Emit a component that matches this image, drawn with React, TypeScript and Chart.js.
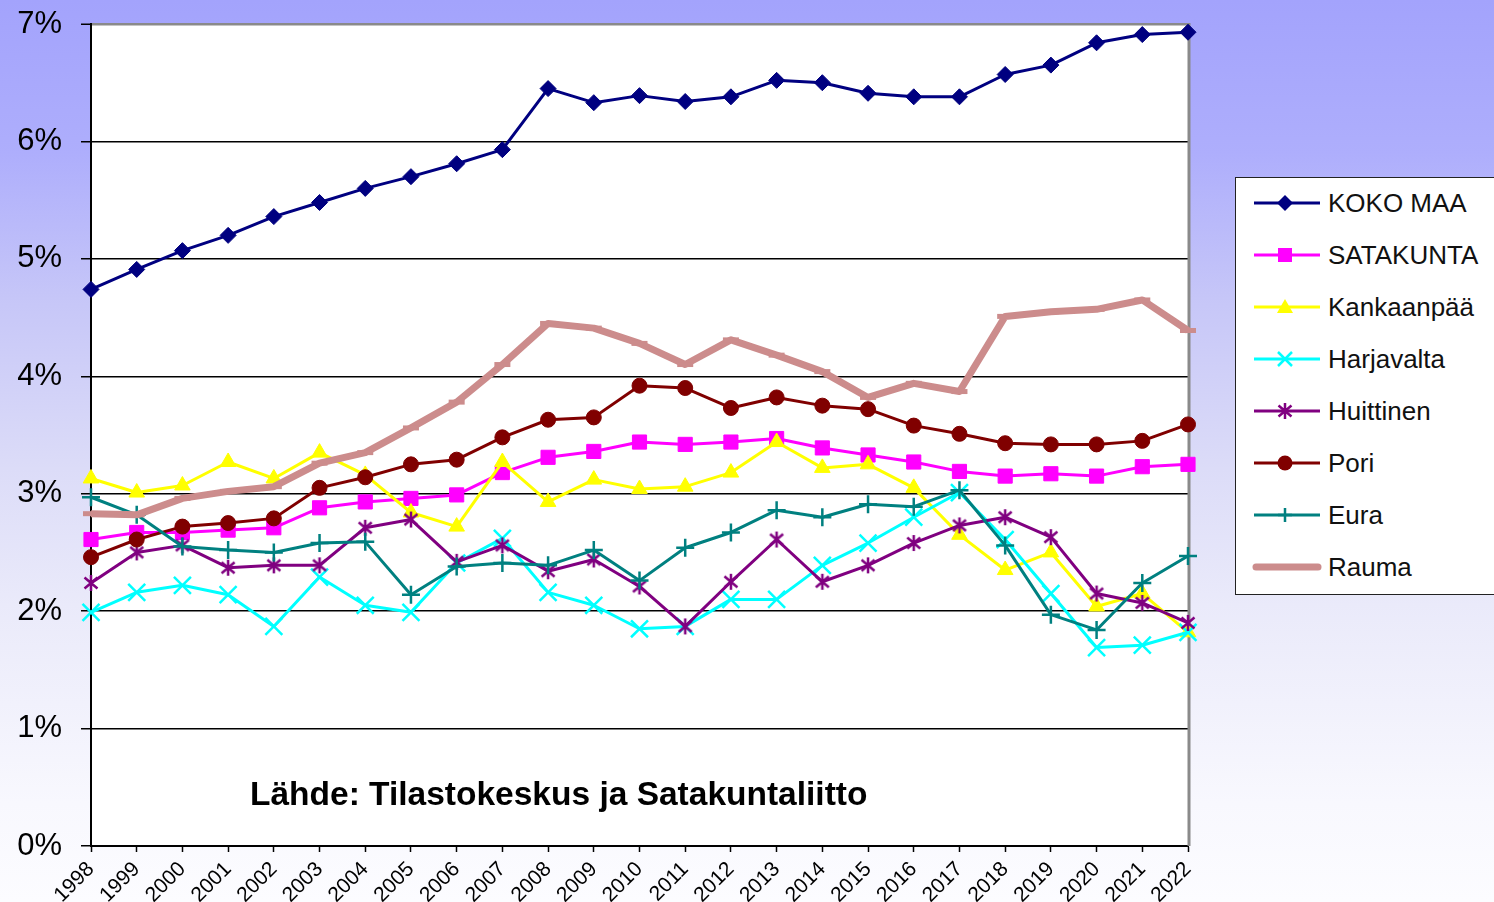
import React, { useEffect, useRef } from 'react';
import { Chart, registerables } from 'chart.js';

Chart.register(...registerables);

const years = ['1998','1999','2000','2001','2002','2003','2004','2005','2006','2007','2008','2009','2010','2011','2012','2013','2014','2015','2016','2017','2018','2019','2020','2021','2022'];
const yTicks = [0, 1, 2, 3, 4, 5, 6, 7];

const kokoMaa = [4.74,4.91,5.07,5.20,5.36,5.48,5.60,5.70,5.81,5.93,6.45,6.33,6.39,6.34,6.38,6.52,6.50,6.41,6.38,6.38,6.57,6.65,6.84,6.91,6.93];
const satakunta = [2.61,2.67,2.67,2.69,2.71,2.88,2.93,2.96,2.99,3.18,3.31,3.36,3.44,3.42,3.44,3.47,3.39,3.33,3.27,3.19,3.15,3.17,3.15,3.23,3.25];
const kankaanpaa = [3.13,3.01,3.07,3.27,3.13,3.35,3.16,2.84,2.72,3.27,2.93,3.12,3.04,3.06,3.18,3.44,3.22,3.25,3.05,2.65,2.35,2.50,2.04,2.15,1.82];
const harjavalta = [1.99,2.16,2.22,2.14,1.87,2.29,2.05,1.99,2.41,2.62,2.16,2.05,1.85,1.87,2.10,2.10,2.39,2.58,2.80,3.01,2.61,2.15,1.69,1.71,1.82];
const huittinen = [2.24,2.50,2.56,2.37,2.39,2.39,2.71,2.78,2.42,2.56,2.34,2.44,2.21,1.87,2.25,2.61,2.25,2.39,2.58,2.73,2.80,2.63,2.15,2.07,1.90];
const pori = [2.46,2.61,2.72,2.75,2.79,3.05,3.14,3.25,3.29,3.48,3.63,3.65,3.92,3.90,3.73,3.82,3.75,3.72,3.58,3.51,3.43,3.42,3.42,3.45,3.59];
const eura = [2.97,2.82,2.55,2.52,2.50,2.58,2.59,2.14,2.38,2.41,2.39,2.52,2.26,2.54,2.67,2.86,2.80,2.91,2.89,3.03,2.56,1.97,1.84,2.24,2.47];
const rauma = [2.83,2.82,2.96,3.02,3.06,3.26,3.35,3.56,3.78,4.10,4.45,4.41,4.28,4.10,4.31,4.18,4.04,3.82,3.94,3.87,4.51,4.55,4.57,4.65,4.39];

const seriesNames = ['KOKO MAA', 'SATAKUNTA', 'Kankaanpää', 'Harjavalta', 'Huittinen', 'Pori', 'Eura', 'Rauma'];
const seriesColors = ['#000080', '#FF00FF', '#FFFF00', '#00FFFF', '#800080', '#800000', '#008080', '#CC8C8C'];
const seriesMarkers = ['diamond', 'square', 'triangle', 'x', 'star', 'circle', 'plus', 'none'];
const sourceText = 'Lähde: Tilastokeskus ja Satakuntaliitto';

const FONT = '"Liberation Sans", Arial, sans-serif';

function makeStarCanvas(color: string) {
  const c = document.createElement('canvas');
  c.width = 18;
  c.height = 18;
  const g = c.getContext('2d')!;
  g.strokeStyle = color;
  g.lineWidth = 2.5;
  g.lineCap = 'butt';
  g.beginPath();
  g.moveTo(2.5, 3.5); g.lineTo(15.5, 14.5);
  g.moveTo(15.5, 3.5); g.lineTo(2.5, 14.5);
  g.moveTo(9, 1); g.lineTo(9, 17);
  g.stroke();
  return c;
}

const plotFrame = {
  id: 'plotFrame',
  beforeDraw(chart: any) {
    const { ctx, chartArea } = chart;
    const { left, top, right, bottom } = chartArea;
    ctx.save();
    ctx.fillStyle = '#ffffff';
    ctx.fillRect(left, top, right - left, bottom - top);
    ctx.restore();
  },
  beforeDatasetsDraw(chart: any) {
    const { ctx, chartArea } = chart;
    const { top, right, bottom } = chartArea;
    ctx.save();
    ctx.strokeStyle = '#8a8a8a';
    ctx.lineWidth = 3;
    ctx.beginPath();
    ctx.moveTo(right + 1, top - 1);
    ctx.lineTo(right + 1, bottom);
    ctx.stroke();
    ctx.restore();
  },
};

function LegendMarker({ type, color }: { type: string; color: string }) {
  const cx = 33, cy = 15;
  let shape: any = null;
  if (type === 'diamond') shape = <polygon points={`${cx},${cy - 8} ${cx + 8},${cy} ${cx},${cy + 8} ${cx - 8},${cy}`} fill={color} />;
  if (type === 'square') shape = <rect x={cx - 7} y={cy - 7} width={14} height={14} fill={color} />;
  if (type === 'triangle') shape = <polygon points={`${cx},${cy - 8} ${cx + 8},${cy + 6} ${cx - 8},${cy + 6}`} fill={color} />;
  if (type === 'x') shape = <path d={`M${cx - 7},${cy - 7}L${cx + 7},${cy + 7}M${cx + 7},${cy - 7}L${cx - 7},${cy + 7}`} stroke={color} strokeWidth={2.5} />;
  if (type === 'star') shape = <path d={`M${cx - 6.5},${cy - 5.5}L${cx + 6.5},${cy + 5.5}M${cx + 6.5},${cy - 5.5}L${cx - 6.5},${cy + 5.5}M${cx},${cy - 8}L${cx},${cy + 8}`} stroke={color} strokeWidth={2.5} />;
  if (type === 'circle') shape = <circle cx={cx} cy={cy} r={7.5} fill={color} />;
  if (type === 'plus') shape = <path d={`M${cx - 7},${cy}L${cx + 7},${cy}M${cx},${cy - 7}L${cx},${cy + 7}`} stroke={color} strokeWidth={2.5} />;
  const isThick = type === 'none';
  return (
    <svg width={72} height={30} style={{ position: 'absolute', left: 0, top: 0 }}>
      <line x1={isThick ? 4 : 2} y1={cy} x2={isThick ? 66 : 68} y2={cy} stroke={color} strokeWidth={isThick ? 7 : 3} strokeLinecap={isThick ? 'round' : 'butt'} />
      {shape}
    </svg>
  );
}

export default function App() {
  const canvasRef = useRef<HTMLCanvasElement | null>(null);

  useEffect(() => {
    const canvas = canvasRef.current;
    if (!canvas) return;
    const values = [kokoMaa, satakunta, kankaanpaa, harjavalta, huittinen, pori, eura, rauma];
    const starImg = makeStarCanvas(seriesColors[4]);
    const pointStyles: any[] = ['rectRot', 'rect', 'triangle', 'crossRot', starImg, 'circle', 'cross', 'line'];
    const pointRadii = [8, 10, 9, 12, 9, 7.5, 9, 8];
    const lineWidths = [3, 3, 3, 3, 3, 3, 3, 7];
    const pointBorderWidths = [1, 1, 1, 2.5, 1, 1, 2.5, 5];

    const datasets = values.map((data, i) => ({
      label: seriesNames[i],
      data,
      borderColor: seriesColors[i],
      backgroundColor: seriesColors[i],
      borderWidth: lineWidths[i],
      pointStyle: pointStyles[i],
      pointRadius: pointRadii[i],
      pointHoverRadius: pointRadii[i],
      pointBorderWidth: pointBorderWidths[i],
      pointBorderColor: seriesColors[i],
      pointBackgroundColor: seriesColors[i],
      tension: 0,
      clip: false as any,
      order: 7 - i,
      borderJoinStyle: 'round' as const,
    }));

    const chart = new Chart(canvas, {
      type: 'line',
      data: { labels: years, datasets },
      plugins: [plotFrame],
      options: {
        animation: false,
        responsive: false,
        devicePixelRatio: 1,
        layout: { padding: { top: 24, right: 306, left: 0, bottom: 0 } },
        plugins: { legend: { display: false }, tooltip: { enabled: false } },
        events: [],
        scales: {
          x: {
            type: 'category',
            offset: false,
            afterFit: (s: any) => { s.height = 56; s.paddingLeft = 0; s.paddingRight = 0; },
            grid: { display: true, drawOnChartArea: false, drawTicks: true, tickLength: 6, tickColor: '#000', tickWidth: 1.5 },
            border: { display: true, color: '#000', width: 2 },
            ticks: {
              autoSkip: false,
              maxRotation: 45,
              minRotation: 45,
              padding: 5,
              color: '#000',
              font: { family: FONT, size: 21 },
            },
          },
          y: {
            min: yTicks[0],
            max: yTicks[yTicks.length - 1],
            afterFit: (s: any) => { s.width = 91; s.paddingTop = 0; s.paddingBottom = 0; },
            afterBuildTicks: (s: any) => { s.ticks = yTicks.map((v) => ({ value: v })); },
            grid: {
              color: (ctx: any) => (ctx.tick && ctx.tick.value === 7 ? '#8a8a8a' : '#000'),
              lineWidth: (ctx: any) => (ctx.tick && ctx.tick.value === 7 ? 2.5 : 1.5),
              tickColor: '#000',
              tickWidth: 1.5,
              tickLength: 10,
              drawTicks: true,
            },
            border: { display: true, color: '#000', width: 2 },
            ticks: {
              padding: 19,
              color: '#000',
              font: { family: FONT, size: 31 },
              callback: (v: any) => `${v}%`,
            },
          },
        },
      },
    });
    return () => chart.destroy();
  }, []);

  const rowTop = 203;
  const rowGap = 52;

  return (
    <div
      style={{
        position: 'absolute',
        left: 0,
        top: 0,
        width: 1494,
        height: 902,
        overflow: 'hidden',
        background: 'linear-gradient(to bottom, #A3A3FC 0%, #AEAEFC 17%, #C6C6F8 33%, #DCDCF8 52%, #EAEAFA 67%, #F8F8FE 89%, #FCFCFF 100%)',
        fontFamily: FONT,
      }}
    >
      <canvas ref={canvasRef} width={1494} height={902} style={{ position: 'absolute', left: 0, top: 0 }} />
      <div
        style={{
          position: 'absolute',
          left: 250,
          top: 777,
          fontSize: 33.5,
          lineHeight: '33px',
          fontWeight: 'bold',
          color: '#000',
          whiteSpace: 'nowrap',
        }}
      >
        {sourceText}
      </div>
      <div
        style={{
          position: 'absolute',
          left: 1235,
          top: 177,
          width: 300,
          height: 418,
          background: '#fff',
          border: '1.5px solid #222',
          boxSizing: 'border-box',
        }}
      />
      {seriesNames.map((name, i) => (
        <div key={name} style={{ position: 'absolute', left: 1252, top: rowTop + i * rowGap - 15, width: 260, height: 30 }}>
          <LegendMarker type={seriesMarkers[i]} color={seriesColors[i]} />
          <div
            style={{
              position: 'absolute',
              left: 76,
              top: 0,
              height: 30,
              lineHeight: '30px',
              fontSize: 26,
              color: '#111',
              whiteSpace: 'nowrap',
            }}
          >
            {name}
          </div>
        </div>
      ))}
    </div>
  );
}
